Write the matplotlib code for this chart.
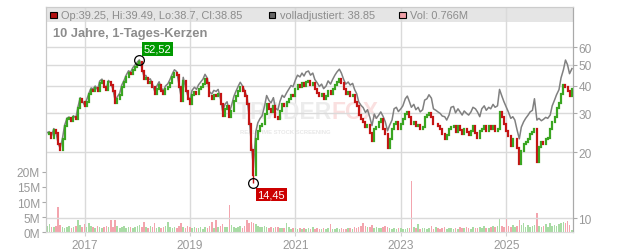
import numpy as np
import pandas as pd
import matplotlib
matplotlib.use("Agg")
import matplotlib.pyplot as plt
from matplotlib.patches import Rectangle
from matplotlib.ticker import NullLocator

plt.rcParams['font.family'] = ['Liberation Sans', 'DejaVu Sans']

# Schlusskurse, halbmonatlich (Apr 2016 - Apr 2026)
close = [
    24.2, 24.5, 23.3, 25.3, 24.5, 21.7, 20.5, 23.0, 26.2, 28.3, 28.6, 27.6, 29.0, 28.3, 31.7, 35.0, 34.0, 32.3,
    34.0, 36.6, 38.5, 38.0, 39.2, 37.8, 41.3, 42.2, 39.5, 38.3, 41.6, 40.4, 38.0, 33.5, 35.0, 36.4, 39.6, 41.6, 43.8, 46.0, 45.3, 47.5, 48.7, 50.3,
    51.5, 46.9, 43.0, 43.3, 41.3, 41.7, 39.6, 36.7, 38.6, 40.4, 38.0, 36.7, 38.6, 39.6, 41.3, 43.9, 45.7, 44.8, 39.6, 34.2, 42.2, 38.0, 35.0, 33.0,
    36.4, 37.6, 36.8, 38.6, 39.6, 40.9, 43.0, 41.3, 35.9, 35.0, 36.4, 36.0, 36.8, 33.2, 29.2, 31.5, 32.3, 28.9, 30.9, 34.2, 36.0, 38.0, 39.6, 38.0,
    35.9, 33.2, 26.9, 20.5, 15.8, 23.0, 25.0, 26.2, 26.9, 29.8, 33.2, 31.5, 30.6, 32.3, 28.9, 28.3, 30.9, 33.0, 32.3, 33.9, 35.0, 36.4, 35.9, 38.6,
    40.4, 39.6, 41.3, 40.0, 41.7, 42.2, 40.4, 41.3, 38.6, 37.2, 35.9, 36.8, 35.0, 36.0, 38.0, 36.8, 38.6, 40.4, 41.7, 43.0, 41.3, 38.6, 36.8, 37.6,
    35.9, 36.4, 33.9, 32.3, 29.5, 28.3, 27.5, 26.0, 26.7, 24.5, 22.4, 25.5, 26.0, 27.5, 28.3, 25.5, 24.2, 21.0, 23.0, 25.5, 26.9, 27.5, 25.5, 26.9,
    28.3, 29.8, 30.6, 28.9, 26.9, 27.5, 26.2, 26.7, 25.5, 26.0, 28.9, 29.5, 30.0, 28.9, 26.9, 26.9, 26.2, 25.5, 24.2, 23.0, 24.0, 25.5, 26.0, 26.2,
    24.7, 26.2, 25.2, 24.2, 25.5, 24.7, 23.9, 25.0, 26.2, 24.5, 23.3, 25.0, 25.5, 26.2, 25.0, 26.2, 25.5, 26.2, 25.0, 25.5, 30.6, 28.9, 26.9, 25.0,
    23.7, 21.4, 23.0, 23.0, 21.0, 17.6, 20.2, 21.7, 22.2, 23.0, 24.2, 24.7, 25.5, 18.0, 21.2, 22.2, 21.7, 23.0, 23.3, 25.5, 27.5, 28.9, 31.7, 33.5,
    36.8, 40.4, 39.6, 38.0, 35.9, 38.85,
]

# volladjustierte Linie
adjusted = [
    24.5, 24.8, 23.6, 25.6, 24.8, 22.0, 20.8, 23.3, 26.5, 28.6, 28.9, 27.9, 29.3, 28.6, 32.0, 35.4, 34.4, 32.6,
    34.6, 37.3, 39.2, 38.8, 40.0, 38.5, 42.1, 43.0, 40.3, 39.1, 42.4, 41.2, 38.8, 34.2, 35.7, 37.1, 40.4, 42.4, 44.7, 46.9, 46.2, 48.5, 49.8, 51.4,
    52.6, 48.4, 44.4, 44.7, 42.6, 43.1, 40.9, 37.9, 39.9, 41.8, 39.3, 38.0, 40.0, 41.0, 42.8, 45.5, 47.4, 46.5, 41.1, 35.5, 43.8, 39.5, 36.4, 34.3,
    38.2, 39.5, 38.6, 40.5, 41.6, 43.0, 45.2, 43.4, 37.7, 36.8, 38.2, 37.8, 38.6, 34.9, 30.7, 33.1, 33.9, 30.4, 32.5, 35.9, 37.8, 39.9, 41.6, 39.9,
    38.1, 35.4, 28.8, 22.0, 17.0, 24.8, 27.2, 28.5, 29.3, 32.5, 36.2, 34.4, 33.5, 35.4, 31.7, 31.1, 34.0, 36.3, 35.5, 37.3, 38.6, 40.2, 39.7, 42.7,
    44.8, 44.0, 45.8, 44.4, 46.3, 46.8, 44.8, 45.8, 42.8, 41.3, 39.8, 40.8, 38.9, 40.0, 42.2, 40.8, 42.8, 44.8, 46.3, 47.7, 45.8, 42.8, 40.8, 41.7,
    40.4, 41.1, 38.5, 36.9, 33.9, 32.6, 31.9, 30.3, 31.2, 28.7, 26.4, 29.8, 28.5, 29.5, 30.5, 29.0, 27.5, 25.0, 26.5, 28.0, 31.5, 32.0, 30.6, 31.5,
    32.5, 35.0, 36.0, 34.0, 32.0, 33.0, 31.2, 32.0, 30.5, 31.2, 34.5, 35.0, 36.5, 35.2, 31.5, 31.0, 30.5, 30.0, 29.2, 29.0, 28.0, 29.5, 32.0, 32.3,
    30.2, 31.5, 30.5, 29.5, 30.8, 30.0, 29.5, 30.5, 32.0, 31.5, 30.5, 29.0, 31.5, 32.5, 31.0, 32.0, 31.5, 33.0, 32.0, 32.5, 38.6, 36.0, 34.0, 32.0,
    30.5, 28.5, 29.0, 28.0, 25.5, 23.0, 26.0, 27.5, 28.5, 29.5, 30.5, 31.0, 35.0, 28.0, 28.5, 27.8, 28.2, 28.8, 28.5, 29.5, 32.5, 34.5, 36.5, 38.5,
    43.5, 47.5, 52.5, 50.0, 45.5, 48.0,
]

# Volumen in Mio. Stueck
volume = [
    2.0, 2.6, 1.6, 1.8, 2.2, 8.4, 2.4, 1.9, 1.5, 1.7, 2.0, 1.4, 1.8, 2.1, 4.0, 2.3, 1.9, 2.6,
    1.6, 3.0, 2.2, 1.8, 1.5, 2.0, 1.7, 1.4, 1.9, 2.2, 1.6, 4.0, 1.8, 4.1, 2.0, 1.5, 1.7, 2.1, 1.3, 1.6, 1.9, 1.4, 1.8, 2.2,
    2.5, 1.8, 3.5, 1.6, 1.4, 2.0, 1.7, 3.0, 1.5, 1.8, 1.3, 1.6, 2.0, 3.5, 1.7, 1.4, 1.9, 1.5, 2.2, 3.0, 1.8, 1.5, 2.0, 1.6,
    1.4, 1.8, 1.5, 1.3, 1.7, 1.2, 1.6, 1.4, 2.0, 3.5, 1.5, 4.0, 1.8, 2.2, 2.8, 1.6, 1.9, 9.1, 2.5, 1.8, 1.4, 1.6, 2.0, 1.5,
    2.2, 4.0, 3.0, 3.5, 3.0, 2.6, 2.0, 1.8, 1.6, 2.2, 1.9, 1.5, 1.7, 1.4, 1.6, 1.8, 1.3, 1.5, 1.4, 3.0, 1.6, 1.2, 1.4, 1.3,
    1.2, 1.5, 1.1, 1.3, 1.0, 1.4, 1.2, 1.6, 1.1, 1.3, 1.0, 1.2, 1.4, 1.1, 1.3, 2.8, 1.2, 1.0, 1.4, 1.1, 1.3, 1.2, 1.0, 1.5,
    1.3, 1.1, 1.6, 1.4, 1.8, 2.0, 3.0, 2.2, 1.6, 1.8, 2.5, 1.4, 1.7, 1.3, 1.5, 1.9, 2.2, 1.6, 1.4, 1.2, 1.5, 1.1, 1.3, 1.4,
    1.2, 1.0, 1.3, 1.5, 16.9, 1.6, 1.4, 2.8, 1.2, 1.5, 1.3, 1.1, 1.4, 2.0, 1.2, 1.6, 1.3, 1.1, 1.5, 1.8, 1.2, 1.4, 1.3, 1.2,
    1.4, 1.2, 1.6, 1.3, 1.5, 1.8, 1.4, 1.2, 1.6, 1.3, 1.5, 1.7, 1.4, 2.0, 1.3, 1.5, 1.8, 2.2, 1.6, 2.0, 4.5, 2.2, 1.8, 4.8,
    2.0, 1.6, 2.4, 1.8, 2.2, 4.0, 2.5, 3.0, 1.9, 2.3, 1.7, 2.0, 2.4, 6.5, 2.1, 1.8, 2.2, 2.6, 1.9, 3.0, 2.2, 2.5, 2.0, 2.8,
    3.2, 3.5, 3.0, 3.6, 2.5, 0.77,
]

dates = pd.date_range("2016-04-15", periods=len(close), freq="SMS")

year_ticks = [2017, 2019, 2021, 2023, 2025]
price_ticks = [10, 20, 30, 40, 50, 60]
vol_ticks = [0, 5, 10, 15, 20]

high_idx, high_val, high_txt = 42, 52.52, "52,52"
low_idx, low_val, low_txt = 94, 14.45, "14,45"

header_ohlc = "Op:39.25, Hi:39.49, Lo:38.7, Cl:38.85"
header_adj = "volladjustiert: 38.85"
header_vol = "Vol: 0.766M"
title = "10 Jahre, 1-Tages-Kerzen"

GREEN = '#3aa521'
RED = '#c41414'
VOL_GREEN = '#a8dba4'
VOL_RED = '#f3a5ae'
GRID = '#dadada'
TXT = '#999999'

c = np.array(close)
o = np.r_[c[0], c[:-1]]
up = c >= o

fig = plt.figure(figsize=(6.32, 2.53), dpi=100)
ax = fig.add_axes([45.7 / 632, 1 - 233.3 / 253, 527 / 632, 225.3 / 253])
ax2 = ax.twinx()

# Volumen (linke Achse)
ax.bar(dates, volume, width=11, color=np.where(up, VOL_GREEN, VOL_RED), zorder=2)
ax.set_ylim(0, 74.4)
ax.set_yticks(vol_ticks, labels=[f"{v}M" for v in vol_ticks])
ax.set_xlim(pd.Timestamp("2016-04-06"), pd.Timestamp("2026-04-06"))
ax.set_xticks([pd.Timestamp(f"{y}-01-01") for y in year_ticks],
              labels=[str(y) for y in year_ticks])
ax.grid(True, axis='x', color=GRID, lw=1)

# Kopfzeile
ax.add_patch(Rectangle((0, 0.9334), 1, 0.0666, transform=ax.transAxes,
                       fc='#e5e5e5', ec='none', zorder=0.5))

# Kurse (rechte Achse, logarithmisch)
ax2.set_yscale('log')
ax2.set_ylim(8.64, 91.5)
ax2.plot(dates, adjusted, color='#808080', lw=1.1, zorder=2)
ax2.vlines(dates, np.minimum(o, c), np.maximum(o, c),
           colors=np.where(up, GREEN, RED), lw=1.6, zorder=3, capstyle='projecting')
ax2.vlines(dates[high_idx], c[high_idx], high_val, color=GREEN, lw=1, zorder=3)
ax2.vlines(dates[low_idx], low_val, c[low_idx], color=RED, lw=1, zorder=3)
ax2.plot([dates[high_idx], dates[low_idx]], [high_val, low_val], 'o', ms=7,
         mfc='none', mec='black', mew=0.9, zorder=5)
ax2.set_yticks(price_ticks, labels=[str(p) for p in price_ticks])
ax2.yaxis.set_minor_locator(NullLocator())
ax2.grid(True, axis='y', color=GRID, lw=1)

ax2.annotate(high_txt, (dates[high_idx], high_val), xytext=(18, 11), textcoords='offset pixels',
             ha='center', va='center', color='white', fontsize=8,
             bbox=dict(boxstyle='square,pad=0.15', fc='#009900', ec='none'), zorder=6)
ax2.annotate(low_txt, (dates[low_idx], low_val), xytext=(18, -11), textcoords='offset pixels',
             ha='center', va='center', color='white', fontsize=8,
             bbox=dict(boxstyle='square,pad=0.15', fc='#cc0000', ec='none'), zorder=6)

# Wasserzeichen
ax2.text(0.363, 0.535, "TRADER", transform=ax.transAxes, fontsize=16.5, fontweight='bold',
         color='#ececec', ha='left', va='center', zorder=1)
ax2.text(0.543, 0.535, "FOX", transform=ax.transAxes, fontsize=16.5, fontweight='bold',
         color='#fae0e0', ha='left', va='center', zorder=1)
ax2.text(0.368, 0.448, "REAL-TIME STOCK SCREENING", transform=ax.transAxes, fontsize=4.2,
         fontweight='bold', color='#e8e8e8', ha='left', va='center', zorder=1)

for a in (ax, ax2):
    a.spines['left'].set_color('#c8c8c8')
    a.spines['right'].set_color('#aaaaaa')
    a.spines['top'].set_color('#cccccc')
    a.spines['bottom'].set_color('#dddddd')

ax.tick_params(axis='y', length=3, color='#aaaaaa', labelcolor=TXT, labelsize=8.6, pad=1)
ax.tick_params(axis='x', length=3, color='#d0d0d0', labelcolor=TXT, labelsize=8.6, pad=1.5)
ax2.tick_params(axis='y', length=3, color='#aaaaaa', labelcolor=TXT, labelsize=8.6, pad=1)

# Kopfzeilen-Texte
ty = 1 - 15.7 / 253
for x0, col, txt in [(50.3, '#b01010', header_ohlc), (268.8, '#666666', header_adj),
                     (399.3, '#f0a0a8', header_vol)]:
    fig.add_artist(Rectangle((x0 / 632, 1 - 19 / 253), 6.5 / 632, 6.5 / 253,
                             transform=fig.transFigure, fc=col, ec='black', lw=0.8))
    fig.text((x0 + 11) / 632, ty, txt, fontsize=7.9, color='#8c8c8c', va='center', ha='left')

fig.text(53.3 / 632, 1 - 33.7 / 253, title, fontsize=9.3, fontweight='bold',
         color='#8c8c8c', va='center', ha='left')

fig.savefig("out.png", dpi=100)
